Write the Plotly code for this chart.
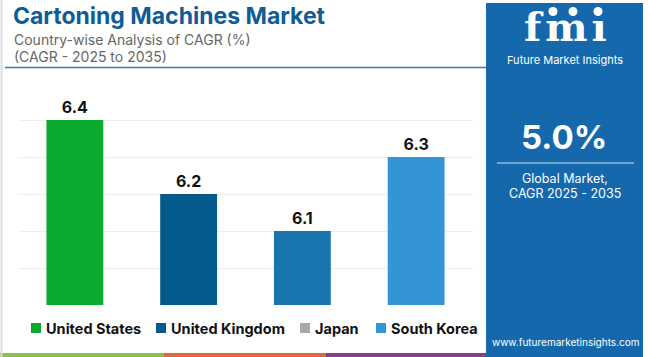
import plotly.graph_objects as go

# ---- data ----
countries = ["United States", "United Kingdom", "Japan", "South Korea"]
cagr = [6.4, 6.2, 6.1, 6.3]
bar_colors = ["#0aab2e", "#045a8d", "#1a74ae", "#3395d5"]
legend_colors = ["#0aab2e", "#045a8d", "#a8a8a8", "#3395d5"]
y_range = [5.9, 6.5]
y_ticks = [5.9, 6.0, 6.1, 6.2, 6.3, 6.4, 6.5]

title = "Cartoning Machines Market"
subtitle1 = "Country-wise Analysis of CAGR (%)"
subtitle2 = "(CAGR - 2025 to 2035)"
global_cagr = "5.0%"

# ---- layout constants (pixels) ----
W, H = 650, 357
FONT = "Inter"
TITLE_BLUE = "#0f5c97"
PANEL_BLUE = "#1668ad"
legend_square_x = [31, 156, 300, 376]   # left edge of each legend square
legend_y = 328


def px(x):
    return x / W


def py(y):
    return 1 - y / H


fig = go.Figure()

fig.add_trace(go.Bar(
    x=countries, y=cagr,
    marker=dict(color=bar_colors, line=dict(width=0)),
    text=[f"{v:.1f}" for v in cagr],
    textposition="outside",
    textfont=dict(family=FONT, size=16, color="#111111", weight="bold"),
    cliponaxis=False,
    showlegend=False,
    hoverinfo="x+y",
))

shapes = [
    # right panel
    dict(type="rect", xref="paper", yref="paper", x0=px(486), x1=px(643), y0=0, y1=py(3),
         fillcolor=PANEL_BLUE, line=dict(width=0), layer="below"),
    # separator line under subtitle
    dict(type="line", xref="paper", yref="paper", x0=px(5), x1=px(486), y0=py(67.5), y1=py(67.5),
         line=dict(color="#3b7cb6", width=1.5)),
    # line inside panel
    dict(type="line", xref="paper", yref="paper", x0=px(497), x1=px(634), y0=py(163), y1=py(163),
         line=dict(color="#8fb8dd", width=1.5)),
    # bottom colour strip
    dict(type="rect", xref="paper", yref="paper", x0=0, x1=px(164), y0=0, y1=py(353),
         fillcolor="#8bc34a", line=dict(width=0)),
    dict(type="rect", xref="paper", yref="paper", x0=px(164), x1=px(326), y0=0, y1=py(353),
         fillcolor="#e0683a", line=dict(width=0)),
    dict(type="rect", xref="paper", yref="paper", x0=px(326), x1=px(486), y0=0, y1=py(353),
         fillcolor="#8e3b8e", line=dict(width=0)),
    # faint left border
    dict(type="line", xref="paper", yref="paper", x0=px(1.5), x1=px(1.5), y0=0, y1=1,
         line=dict(color="#dddddd", width=2)),
]

annotations = [
    dict(text=f"<b>{title}</b>", x=px(11), y=py(16), xref="paper", yref="paper",
         xanchor="left", yanchor="middle", showarrow=False,
         font=dict(family=FONT, size=23, color=TITLE_BLUE)),
    dict(text=subtitle1, x=px(12), y=py(39), xref="paper", yref="paper",
         xanchor="left", yanchor="middle", showarrow=False,
         font=dict(family=FONT, size=14, color="#666666")),
    dict(text=subtitle2, x=px(12), y=py(57), xref="paper", yref="paper",
         xanchor="left", yanchor="middle", showarrow=False,
         font=dict(family=FONT, size=14, color="#666666")),
    # panel texts
    dict(text="<b>f\u200am\u200aı</b>", x=px(565), y=py(27), xref="paper", yref="paper",
         xanchor="center", yanchor="middle", showarrow=False,
         font=dict(family="DejaVu Serif", size=40, color="white")),
    dict(text="Future Market Insights", x=px(565), y=py(60), xref="paper", yref="paper",
         xanchor="center", yanchor="middle", showarrow=False,
         font=dict(family=FONT, size=11, color="white")),
    dict(text=f"<b>{global_cagr}</b>", x=px(564), y=py(137), xref="paper", yref="paper",
         xanchor="center", yanchor="middle", showarrow=False,
         font=dict(family=FONT, size=33, color="white")),
    dict(text="Global Market,", x=px(565), y=py(178), xref="paper", yref="paper",
         xanchor="center", yanchor="middle", showarrow=False,
         font=dict(family=FONT, size=12.5, color="white")),
    dict(text="CAGR 2025 - 2035", x=px(565), y=py(193), xref="paper", yref="paper",
         xanchor="center", yanchor="middle", showarrow=False,
         font=dict(family=FONT, size=12.5, color="white")),
    dict(text="www.futuremarketinsights.com", x=px(565), y=py(342), xref="paper", yref="paper",
         xanchor="center", yanchor="middle", showarrow=False,
         font=dict(family=FONT, size=10, color="white")),
]

# logo stripes across "fmi"
for sy in range(18, 42, 4):
    shapes.append(dict(type="line", xref="paper", yref="paper",
                       x0=px(508), x1=px(622), y0=py(sy), y1=py(sy),
                       line=dict(color=PANEL_BLUE, width=1)))

# logo globe dots above "mi"
for cx in (553, 573, 598):
    shapes.append(dict(type="circle", xref="paper", yref="paper",
                       x0=px(cx - 4.5), x1=px(cx + 4.5), y0=py(16), y1=py(7),
                       fillcolor="white", line=dict(width=0)))

# legend built from the data arrays
for name, col, sx in zip(countries, legend_colors, legend_square_x):
    shapes.append(dict(type="rect", xref="paper", yref="paper",
                       x0=px(sx), x1=px(sx + 10), y0=py(legend_y + 5), y1=py(legend_y - 5),
                       fillcolor=col, line=dict(width=0)))
    annotations.append(dict(text=f"<b>{name}</b>", x=px(sx + 13), y=py(legend_y),
                            xref="paper", yref="paper", xanchor="left", yanchor="middle",
                            showarrow=False,
                            font=dict(family=FONT, size=14.5, color="#111111")))

fig.update_layout(
    width=W, height=H,
    margin=dict(l=0, r=0, t=0, b=0),
    paper_bgcolor="white", plot_bgcolor="white",
    font=dict(family=FONT),
    bargap=0.5,
    showlegend=False,
    xaxis=dict(domain=[px(18), px(473)], showticklabels=False, showgrid=False,
               zeroline=False, showline=False, ticks=""),
    yaxis=dict(domain=[py(305), py(83)], range=y_range, tickvals=y_ticks,
               showticklabels=False, showgrid=True, gridcolor="#eeeeee", gridwidth=1,
               zeroline=False, showline=False, ticks=""),
    shapes=shapes,
    annotations=annotations,
)

fig.write_html("out.html", config={"displayModeBar": False},
               post_script="document.body.style.margin='0';document.body.style.overflow='hidden';")
